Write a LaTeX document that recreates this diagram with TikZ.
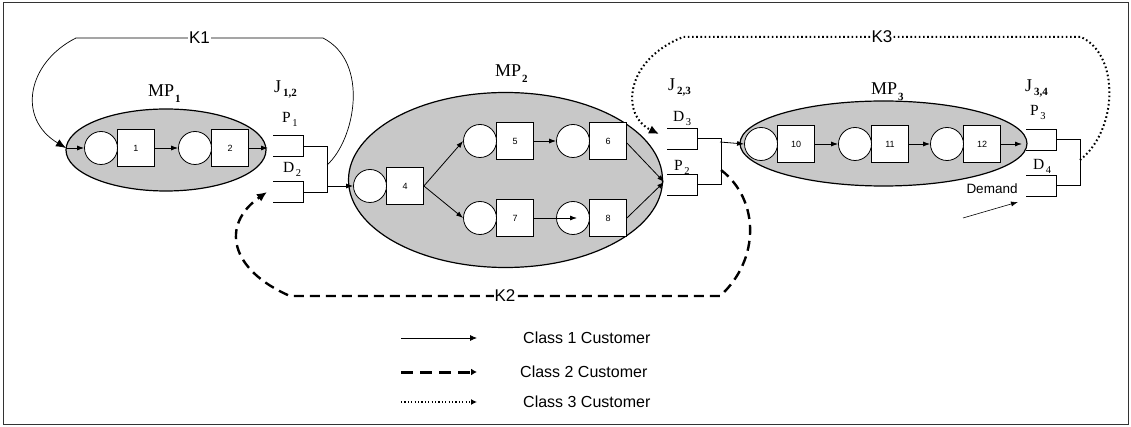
\documentclass[tikz,border=0pt]{standalone}
\usepackage{fontspec}
\setmainfont{Liberation Serif}
\newfontfamily\arialf{Liberation Sans}
\usetikzlibrary{shapes.geometric,arrows.meta,calc}
\definecolor{mpgray}{RGB}{200,200,200}
\newcommand\mplab[2]{#1\hspace{1pt}\raisebox{-6pt}{\fontsize{11}{11}\selectfont\bfseries #2}}
\newcommand\jxlab[2]{#1\hspace{2pt}\raisebox{-4pt}{\fontsize{11}{11}\selectfont\bfseries #2}}
\newcommand\pdlab[2]{#1\hspace{1.5pt}\raisebox{-4pt}{\fontsize{10.5}{10.5}\selectfont #2}}
\begin{document}
\begin{tikzpicture}[x=1pt,y=-1pt,
  mpell/.style={ellipse,draw,line width=1.2pt,fill=mpgray,inner sep=0pt},
  srv/.style={draw,fill=white,minimum size=37pt,inner sep=0pt,line width=0.8pt,font=\arialf\fontsize{9}{9}\selectfont},
  que/.style={circle,draw,fill=white,minimum size=33pt,inner sep=0pt,line width=0.8pt},
  flow/.style={line width=0.8pt,-{Latex[length=7pt,width=5pt]}},
  brk/.style={line width=0.9pt},
  kone/.style={line width=0.7pt,-{Latex[length=10pt,width=8pt]}},
  ktwo/.style={line width=2.4pt,dash pattern=on 10pt off 6pt,-{Latex[length=10pt,width=9pt]}},
  kthree/.style={line width=2pt,dash pattern=on 1.6pt off 2.6pt,-{Latex[length=10pt,width=9pt]}},
  klab/.style={fill=white,inner sep=1pt,font=\arialf\fontsize{17}{17}\selectfont},
  mptext/.style={anchor=base west,inner sep=0pt,font=\fontsize{18}{18}\selectfont},
  pdtext/.style={anchor=base west,inner sep=0pt,font=\fontsize{15.5}{15.5}\selectfont},
  legtext/.style={anchor=west,inner sep=0pt,font=\arialf\fontsize{16}{16}\selectfont},
  junction/.pic={
    \draw[brk] (0,-10.5) -- (30,-10.5) -- (30,10.5) -- (0,10.5);
    \draw[brk] (0,35.5) -- (30,35.5) -- (30,56.5) -- (0,56.5);
    \draw[brk] (30,0) -- (54,0) -- (54,46) -- (30,46);
  }
]
\useasboundingbox (0,0) rectangle (1131,427);
\draw[line width=1.5pt,black!80] (3.5,2.5) rectangle (1128.5,424.5);

% ---------- MP1 ----------
\node[mpell,minimum width=200pt,minimum height=82pt] (mp1) at (166,150) {};
\node[srv] (s1) at (136,148) {1};
\node[que] (c1) at (101,148) {};
\node[srv] (s2) at (230,148) {2};
\node[que] (c2) at (195,148) {};
\coordinate (in1) at (66,148);
\coordinate (out1) at (268,148);
\draw[flow] (in1) -- (c1.west);
\draw[flow] (s1.east) -- (c2.west);
\draw[flow] (s2.east) -- (out1);
\node[mptext] (mp1lab) at (148,97) {\mplab{MP}{1}};

% ---------- J12 ----------
\pic at (273,146) {junction};
\coordinate (j12out) at (327,186);
\coordinate (j12k) at (327,165);
\coordinate (k2end) at (267,192);
\node[mptext] (j12lab) at (274,93) {\jxlab{J}{1,2}};
\node[pdtext] (p1lab) at (282,123) {\pdlab{P}{1}};
\node[pdtext] (d2lab) at (283,173) {\pdlab{D}{2}};

% ---------- MP2 ----------
\node[mpell,minimum width=314pt,minimum height=175pt] (mp2) at (505.5,180) {};
\node[srv] (s4) at (405,186) {4};
\node[que] (c4) at (370,186) {};
\node[srv] (s5) at (515,141) {5};
\node[que] (c5) at (480,141) {};
\node[srv] (s6) at (608,141) {6};
\node[que] (c6) at (573,141) {};
\node[srv] (s7) at (515,218) {7};
\node[que] (c7) at (480,218) {};
\node[srv] (s8) at (608,218) {8};
\node[que] (c8) at (573,218) {};
\coordinate (p2in) at (664,182);
\draw[flow] (j12out) -- (c4.west);
\draw[flow] (s4.east) -- (c5.west);
\draw[flow] (s4.east) -- (c7.west);
\draw[flow] (s5.east) -- (c6.west);
\draw[flow] (s7.east) -- ($(c8.center)+(4,0)$);
\draw[flow] ($(s6.east)+(0,2)$) -- (p2in);
\draw[flow] (s8.east) -- (p2in);
\node[mptext] (mp2lab) at (495,77) {\mplab{MP}{2}};

% ---------- J23 ----------
\pic at (667,138.5) {junction};
\coordinate (j23out) at (720,142);
\coordinate (k2start) at (721,170);
\coordinate (k3end) at (659,134);
\node[mptext] (j23lab) at (668,91) {\jxlab{J}{2,3}};
\node[pdtext] (d3lab) at (673,122) {\pdlab{D}{3}};
\node[pdtext] (p2lab) at (674,171) {\pdlab{P}{2}};

% ---------- MP3 ----------
\node[mpell,minimum width=287pt,minimum height=85pt] (mp3) at (883.5,143.5) {};
\node[srv] (s10) at (796,144) {10};
\node[que] (c10) at (761,144) {};
\node[srv] (s11) at (890,144) {11};
\node[que] (c11) at (855,144) {};
\node[srv] (s12) at (982,144) {12};
\node[que] (c12) at (947,144) {};
\coordinate (out3) at (1022,144);
\draw[flow] (j23out) -- (c10.west);
\draw[flow] (s10.east) -- (c11.west);
\draw[flow] (s11.east) -- (c12.west);
\draw[flow] (s12.east) -- (out3);
\node[mptext] (mp3lab) at (871,95) {\mplab{MP}{3}};

% ---------- J34 ----------
\pic at (1026,139.5) {junction};
\coordinate (k3start) at (1080,160);
\node[mptext] (j34lab) at (1025,92) {\jxlab{J}{3,4}};
\node[pdtext] (p3lab) at (1030,116) {\pdlab{P}{3}};
\node[pdtext] (d4lab) at (1033,170) {\pdlab{D}{4}};
\node[font=\arialf\fontsize{13.5}{13.5}\selectfont,inner sep=0pt] (demand) at (992,189) {Demand};
\coordinate (dema) at (963,218);
\coordinate (demb) at (1018,202);
\draw[line width=0.6pt,-{Latex[length=7pt,width=5pt]}] (dema) -- (demb);

% ---------- feedback loops ----------
\draw[kone] (j12k) .. controls (355,140) and (370,62) .. (323,38)
  -- node[klab] (k1lab) {K1} (76,38)
  .. controls (28,62) and (16,118) .. (in1);
\draw[ktwo] (k2start) .. controls (760,200) and (760,260) .. (720,296)
  -- node[klab,inner sep=0.5pt] (k2lab) {K2} (290,296)
  .. controls (230,270) and (220,225) .. (k2end);
\draw[kthree] (k3start) .. controls (1118,130) and (1120,55) .. (1081,37)
  -- node[klab] (k3lab) {K3} (683,37)
  .. controls (625,60) and (620,115) .. (k3end);

% ---------- legend ----------
\coordinate (l1a) at (401,338); \coordinate (l1b) at (477,338);
\coordinate (l2a) at (401,372); \coordinate (l2b) at (477,372);
\coordinate (l3a) at (401,402); \coordinate (l3b) at (477,402);
\draw[line width=0.8pt,-{Latex[length=7pt,width=6pt]}] (l1a) -- (l1b);
\draw[line width=3pt,dash pattern=on 12pt off 7pt,-{Latex[length=6pt,width=7pt]}] (l2a) -- (l2b);
\draw[line width=1.2pt,dash pattern=on 1.2pt off 2.2pt,-{Latex[length=6pt,width=6pt]}] (l3a) -- (l3b);
\node[legtext] (leg1) at (523,338) {Class 1 Customer};
\node[legtext] (leg2) at (520,372) {Class 2 Customer};
\node[legtext] (leg3) at (523,402) {Class 3 Customer};
\end{tikzpicture}
\end{document}
